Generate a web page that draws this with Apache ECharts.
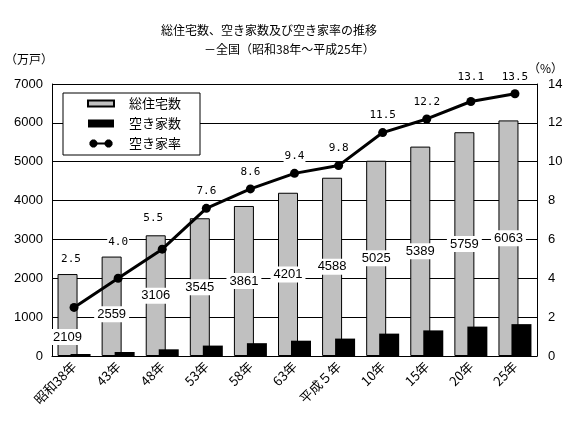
<!DOCTYPE html>
<html><head><meta charset="utf-8">
<script src="https://cdn.jsdelivr.net/npm/echarts@6/dist/echarts.min.js"></script>
<style>html,body{margin:0;padding:0;background:#fff}#c{width:570px;height:430px}</style>
</head><body><div id="c"></div>
<script>
const categories = ['昭和38年','43年','48年','53年','58年','63年','平成５年','10年','15年','20年','25年'];
const totalHouses = [2109,2559,3106,3545,3861,4201,4588,5025,5389,5759,6063];
const vacantHouses = [52,103,172,268,330,394,448,576,659,757,820];
const vacancyRate = [2.5,4.0,5.5,7.6,8.6,9.4,9.8,11.5,12.2,13.1,13.5];
const leftTicks = [0,1000,2000,3000,4000,5000,6000,7000];
const rightTicks = [0,2,4,6,8,10,12,14];

const CJK = '"Noto Sans CJK JP", sans-serif';
const NUM = '"Liberation Sans Narrow", "Liberation Sans", sans-serif';

// label nudges to keep labels clear of the line (layout only)
const barLabelOffsets = {0:[0,22],1:[0,8]};
const rateLabelOffsets = {0:[-3,-31],1:[0,-19],2:[-9,-14],9:[0,-7]};

// legend icon: dot — line — dot
const lineIcon = 'path://M1.3,1.3L3,0L6,0L7.7,1.3L9,3L9,6L7.7,7.7L6,9L3,9L1.3,7.7L0,6L0,3Z' +
  'M18.3,1.3L20,0L23,0L24.7,1.3L26,3L26,6L24.7,7.7L23,9L20,9L18.3,7.7L17,6L17,3Z' +
  'M4,3.3L22,3.3L22,5.7L4,5.7Z';

const chart = echarts.init(document.getElementById('c'));
chart.setOption({
  animation: false,
  backgroundColor: '#fff',
  title: [
    {text:'総住宅数、空き家数及び空き家率の推移', left:156, top:19, textStyle:{fontFamily:CJK,fontSize:12,fontWeight:'normal',color:'#000'}},
    {text:'－全国（昭和38年～平成25年）', left:199, top:38, textStyle:{fontFamily:CJK,fontSize:12,fontWeight:'normal',color:'#000'}}
  ],
  graphic: [
    {type:'text', left:5, top:53, style:{text:'（万戸）', font:'12px '+CJK, fill:'#000'}},
    {type:'text', left:528, top:62, style:{text:'（%）', font:'12px '+CJK, fill:'#000'}}
  ],
  legend: {
    orient:'vertical', left:63, top:93,
    backgroundColor:'#fff', borderColor:'#000', borderWidth:1, borderRadius:0,
    padding:[4,19,5,24], itemGap:7, itemWidth:26, itemHeight:8,
    textStyle:{fontFamily:CJK, fontSize:13, color:'#000', padding:[0,0,0,10]},
    data:[
      {name:'総住宅数',icon:'path://M0,1h26v6h-26z'},
      {name:'空き家数',icon:'rect'},
      {name:'空き家率',icon:lineIcon,itemStyle:{color:'#000',borderWidth:0},lineStyle:{width:0}}
    ]
  },
  grid: {left:52, right:33, top:84, bottom:74},
  xAxis: {
    type:'category', data:categories,
    axisLine:{lineStyle:{color:'#000',width:1}},
    axisTick:{inside:true,length:4,lineStyle:{color:'#000'}},
    axisLabel:{rotate:45, interval:0, margin:8, color:'#000', fontFamily:CJK, fontSize:13}
  },
  yAxis: [
    {type:'value', min:leftTicks[0], max:leftTicks[leftTicks.length-1], interval:1000,
     axisLine:{show:true,lineStyle:{color:'#000'}},
     axisTick:{show:true,inside:true,length:4,lineStyle:{color:'#000'}},
     axisLabel:{color:'#000', fontFamily:NUM, fontSize:13, margin:9, formatter:v=>String(v)},
     splitLine:{show:true,lineStyle:{color:'#000',width:1}}},
    {type:'value', min:rightTicks[0], max:rightTicks[rightTicks.length-1], interval:2,
     axisLine:{show:true,lineStyle:{color:'#000'}},
     axisTick:{show:true,inside:true,length:4,lineStyle:{color:'#000'}},
     axisLabel:{color:'#000', fontFamily:NUM, fontSize:13, margin:11, formatter:v=>String(v)},
     splitLine:{show:false}}
  ],
  series: [
    {name:'総住宅数', type:'bar', yAxisIndex:0, barWidth:20, barGap:'-35%',
     itemStyle:{color:'#c0c0c0', borderColor:'#000', borderWidth:1},
     data: totalHouses.map((v,i)=>({value:v, label: barLabelOffsets[i] ? {offset:barLabelOffsets[i]} : undefined})),
     label:{show:true, position:'inside', color:'#000', fontFamily:NUM, fontSize:13,
            backgroundColor:'#fff', padding:[2,3,1,3]}, z:2},
    {name:'空き家数', type:'bar', yAxisIndex:0, barWidth:20, barGap:'-35%',
     itemStyle:{color:'#000'}, data: vacantHouses, z:3},
    {name:'空き家率', type:'line', yAxisIndex:1, symbol:'circle', symbolSize:9,
     lineStyle:{color:'#000', width:3}, itemStyle:{color:'#000'},
     data: vacancyRate.map((v,i)=>({value:v, label: rateLabelOffsets[i] ? {offset:rateLabelOffsets[i]} : undefined})),
     label:{show:true, position:'top', distance:6, color:'#000', fontFamily:'"DejaVu Sans Mono", monospace', fontSize:11,
            formatter:p=>p.value.toFixed(1), backgroundColor:'#fff', padding:[1,1]}, z:5}
  ]
});
</script></body></html>
